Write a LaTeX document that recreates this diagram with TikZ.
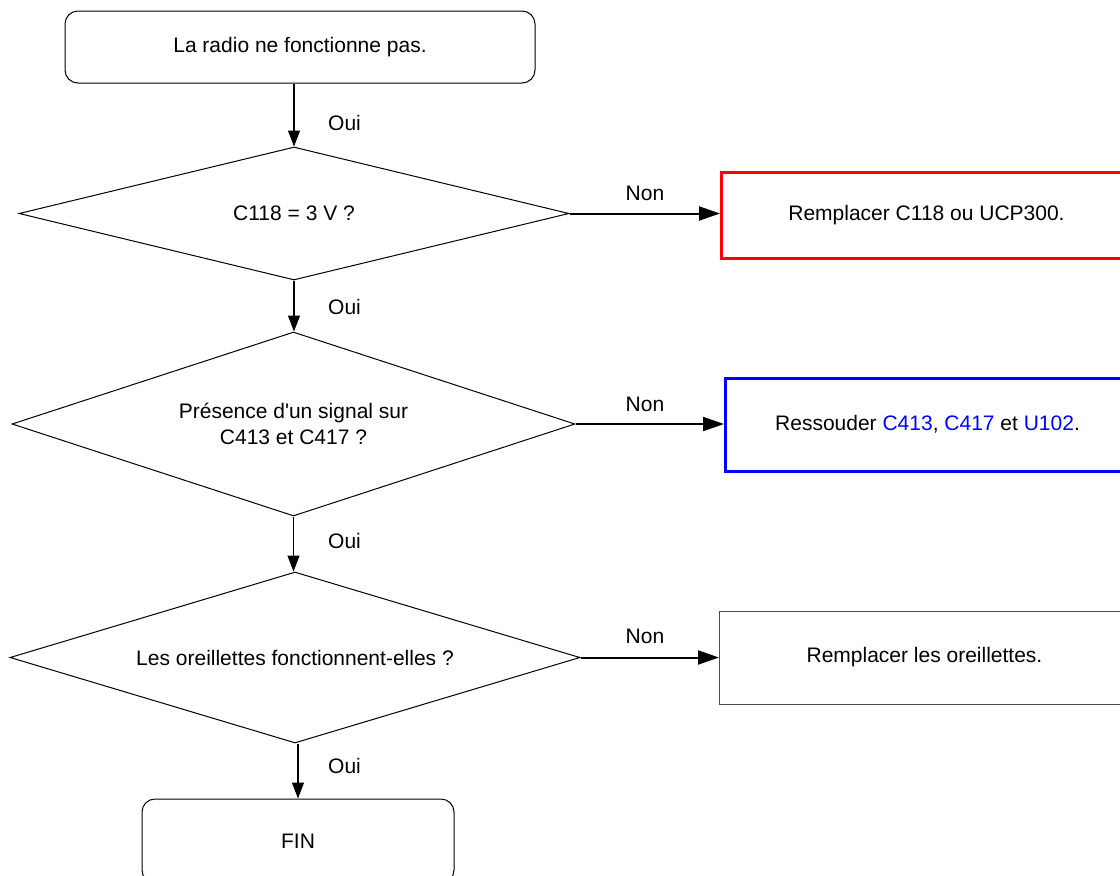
\documentclass[tikz,border=0pt]{standalone}
\usepackage{fontspec}
\setmainfont{Liberation Sans}
\usetikzlibrary{shapes.geometric,arrows.meta}
\definecolor{pureblue}{RGB}{0,0,255}
\definecolor{purered}{RGB}{255,0,0}
\begin{document}
\begin{tikzpicture}[x=1pt,y=-1pt,
  every node/.style={font=\fontsize{21}{26}\selectfont, inner sep=0pt},
  terminal/.style={draw, line width=1pt, rounded corners=13pt, align=center},
  decision/.style={draw, diamond, aspect=3, line width=1pt, align=center},
  action/.style={draw, rectangle, anchor=west, minimum width=410pt, align=center},
  yesflow/.style={line width=1.2pt, -{Triangle[length=16pt,width=12pt]}},
  noflow/.style={line width=2pt, -{Triangle[length=21pt,width=14pt]}},
  tag/.style={anchor=west}]
  \clip (0,0) rectangle (1120,876);

  % start and end of the chart
  \node[terminal, minimum width=470pt, minimum height=72pt] (start) at (300,47) {La radio ne fonctionne pas.};
  \node[terminal, minimum width=312pt, minimum height=84pt] (fin) at (298,841) {FIN};

  % decisions
  \node[decision, minimum width=550pt, minimum height=133pt] (d1) at (294,213.5) {C118 = 3 V ?};
  \node[decision, minimum width=563pt, minimum height=184pt] (d2) at (293.5,424)
    {Présence d\textquotesingle un signal sur\\C413 et C417 ?};
  \node[decision, minimum width=570pt, minimum height=171pt] (d3) at (295,657.5) {Les oreillettes fonctionnent-elles ?};

  % remedies
  \node[action, draw=purered, line width=3pt, minimum height=86pt] (fix1) at (720,215) {Remplacer C118 ou UCP300.};
  \node[action, draw=pureblue, line width=3pt, minimum width=404pt, minimum height=93pt] (fix2) at (724,424.5)
    {Ressouder \textcolor{pureblue}{C413}, \textcolor{pureblue}{C417} et \textcolor{pureblue}{U102}.};
  \node[action, draw=black!70, line width=1pt, minimum height=93pt] (fix3) at (719,657.5) {Remplacer les oreillettes.};

  % main flow
  \draw[yesflow] (d1.north |- start.south) -- (d1.north);
  \draw[yesflow] (d1.south) -- (d1.south |- d2.north);
  \draw[yesflow] (d2.south) -- (d2.south |- d3.north);
  \draw[yesflow] (d3.south -| fin.north) -- (fin.north);

  % branches
  \draw[noflow] (d1.east) -- (fix1.west |- d1.east);
  \draw[noflow] (d2.east) -- (fix2.west |- d2.east);
  \draw[noflow] (d3.east) -- (fix3.west |- d3.east);

  % labels
  \node[tag] (oui1) at (328,123) {Oui};
  \node[tag] (oui2) at (328,307) {Oui};
  \node[tag] (oui3) at (328,541) {Oui};
  \node[tag] (oui4) at (328,766) {Oui};
  \node (non1) at (645,193) {Non};
  \node (non2) at (645,404) {Non};
  \node (non3) at (645,636) {Non};
\end{tikzpicture}
\end{document}
